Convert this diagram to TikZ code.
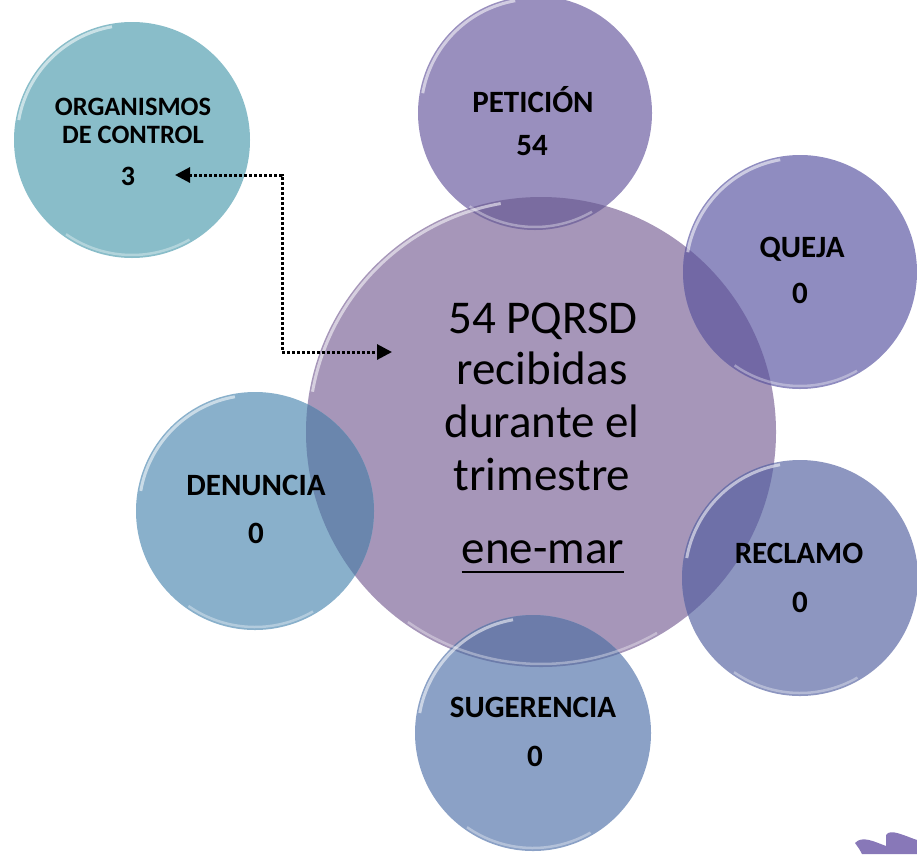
\documentclass[tikz,border=0pt]{standalone}
\usepackage{fontspec}
\setmainfont{Carlito}
\usetikzlibrary{arrows.meta}
\definecolor{cmainc}{HTML}{A696B9}
\definecolor{cpetc}{HTML}{998FBE}
\definecolor{cquec}{HTML}{8F8CC0}
\definecolor{crecc}{HTML}{8D96C0}
\definecolor{csugc}{HTML}{8BA1C6}
\definecolor{cdenc}{HTML}{89B0CB}
\definecolor{corgc}{HTML}{89BDC9}
\definecolor{opet}{HTML}{7A6CA0}
\definecolor{oque}{HTML}{7268A5}
\definecolor{orec}{HTML}{6E70A8}
\definecolor{osug}{HTML}{6C7CAA}
\definecolor{oden}{HTML}{6A86AD}
\definecolor{logoc}{HTML}{8878B8}
\tikzset{
  bub/.style={circle, inner sep=0pt, minimum size=#1},
  lab/.style={font=\bfseries\fontsize{31}{31}\selectfont, anchor=base, inner sep=0pt, text=black},
  big/.style={font=\fontsize{47}{47}\selectfont, anchor=base, inner sep=0pt, text=black},
  rim/.style={draw=white, line width=3pt, opacity=0.55},
  rimtop/.style={draw=white, line width=2.5pt, opacity=0.35},
  link/.style={line width=3pt, dash pattern=on 3pt off 2pt,
    {Triangle[length=15pt,width=15pt]}-{Triangle[length=15pt,width=15pt]}}
}
\begin{document}
\begin{tikzpicture}[x=1pt,y=-1pt]
\useasboundingbox (0,0) rectangle (917,854);

% main circle
\node[bub=470pt, fill=cmainc] (cmain) at (541,432) {};
% satellites
\node[bub=234pt, fill=cpetc] (cpet) at (535,113) {};
\node[bub=234pt, fill=cquec] (cque) at (800,272) {};
\node[bub=236pt, fill=crecc] (crec) at (800,578) {};
\node[bub=236pt, fill=csugc] (csug) at (533,733) {};
\node[bub=238pt, fill=cdenc] (cden) at (255,511) {};
\node[bub=236pt, fill=corgc] (corg) at (132,140) {};

% overlaps with the main circle
\begin{scope}
  \clip (cmain.center) circle[radius=235pt];
  \fill[opet] (cpet.center) circle[radius=117pt];
  \fill[oque] (cque.center) circle[radius=117pt];
  \fill[orec] (crec.center) circle[radius=118pt];
  \fill[osug] (csug.center) circle[radius=118pt];
  \fill[oden] (cden.center) circle[radius=119pt];
\end{scope}

% glossy rims
\foreach \n/\r in {cmain/232, cpet/114, cque/114, crec/115, csug/115, cden/116, corg/115}{
  \draw[rim] (\n.center) ++(100:\r pt) arc[start angle=100, end angle=170, radius=\r pt];
  \draw[rimtop] (\n.center) ++(235:\r pt) arc[start angle=235, end angle=300, radius=\r pt];
}

% labels
\node[lab, font=\bfseries\fontsize{26.5}{26.5}\selectfont] (torg1) at (133,115) {ORGANISMOS};
\node[lab, font=\bfseries\fontsize{26.5}{26.5}\selectfont] (torg2) at (133,143) {DE CONTROL};
\node[lab, font=\bfseries\fontsize{28}{28}\selectfont] (torg3) at (128,185) {3};
\node[lab] (tpet1) at (533,112) {PETICIÓN};
\node[lab] (tpet2) at (532,155) {54};
\node[lab] (tque1) at (802,257) {QUEJA};
\node[lab] (tque2) at (800,303) {0};
\node[lab] (trec1) at (799,563) {RECLAMO};
\node[lab] (trec2) at (800,612) {0};
\node[lab] (tsug1) at (533,717) {SUGERENCIA};
\node[lab] (tsug2) at (535,766) {0};
\node[lab] (tden1) at (256,495) {DENUNCIA};
\node[lab] (tden2) at (256,543) {0};

% central text
\node[big] (tc1) at (543,333) {54 PQRSD};
\node[big] (tc2) at (542,384) {recibidas};
\node[big] (tc3) at (542,437) {durante el};
\node[big] (tc4) at (542,490) {trimestre};
\node[big] (tc5) at (543,563) {ene-mar};
\draw[line width=2.4pt] ([yshift=-9pt]tc5.base west) -- ([yshift=-9pt]tc5.base east);

% dotted connector
\coordinate (a1) at (175,175);
\coordinate (k1) at (282,175);
\coordinate (k2) at (282,352);
\coordinate (a2) at (392,352);
\draw[link] (a1) -- (k1) -- (k2) -- (a2);

% corner logo fragment
\fill[logoc] (855,843) .. controls (862,835) and (875,842) .. (886,846)
  -- (886,835) .. controls (890,828) and (905,836) .. (917,840)
  -- (917,854) -- (862,854) .. controls (860,850) .. cycle;
\end{tikzpicture}
\end{document}
